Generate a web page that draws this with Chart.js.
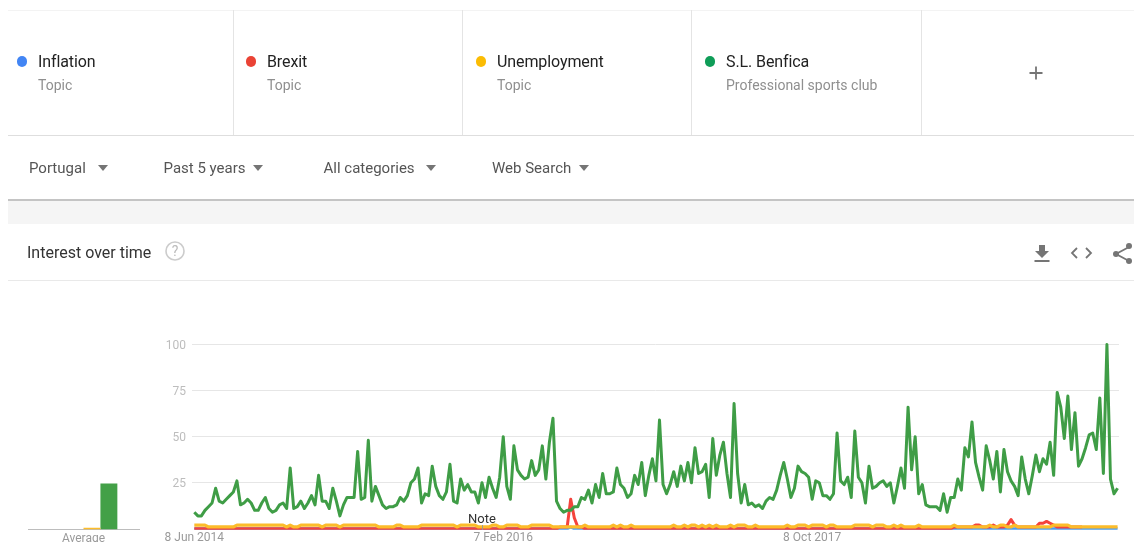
<!DOCTYPE html>
<html><head><meta charset="utf-8">
<script src="https://cdn.jsdelivr.net/npm/chart.js@4"></script>
<style>
html,body{margin:0;padding:0;background:#fff;width:1134px;height:542px;overflow:hidden;font-family:Roboto,sans-serif}
#page{position:absolute;left:0;top:0;width:1134px;height:542px;filter:blur(.35px)}
.a{position:absolute;white-space:nowrap}
.ln{position:absolute;background:#e4e4e4}
.dot{position:absolute;width:10.5px;height:10.5px;border-radius:50%}
.t{font-size:16px;color:#222;line-height:20px;letter-spacing:-.1px}
.s{font-size:14px;color:#8f8f8f;line-height:18px}
.f{font-size:15px;color:#555;line-height:20px}
.tri{position:absolute;width:0;height:0;border-left:5.5px solid transparent;border-right:5.5px solid transparent;border-top:6px solid #757575}
canvas{position:absolute;display:block}
</style></head><body><div id="page">
<div class="ln" style="left:8px;top:10px;width:1126px;height:1px;background:#f3f3f3"></div>
<div class="ln" style="left:233px;top:10px;width:1px;height:125px"></div>
<div class="ln" style="left:462px;top:10px;width:1px;height:125px"></div>
<div class="ln" style="left:691px;top:10px;width:1px;height:125px"></div>
<div class="ln" style="left:921px;top:10px;width:1px;height:125px"></div>
<div class="ln" style="left:8px;top:135px;width:1126px;height:1px;background:#dedede"></div>

<div id="lg"></div>
<svg class="a" style="left:1028px;top:65px" width="16" height="16"><path d="M8 1.500v13M1.500 8h13" stroke="#757575" stroke-width="1.800" fill="none"/></svg>

<div class="a f" style="left:29px;top:158px">Portugal</div><div class="tri" style="left:98px;top:165px"></div>
<div class="a f" style="left:163.500px;top:158px">Past 5 years</div><div class="tri" style="left:253px;top:165px"></div>
<div class="a f" style="left:323.500px;top:158px">All categories</div><div class="tri" style="left:426px;top:165px"></div>
<div class="a f" style="left:492px;top:158px">Web Search</div><div class="tri" style="left:579px;top:165px"></div>

<div class="ln" style="left:8px;top:199px;width:1126px;height:2px;background:#c4c4c4"></div>
<div class="ln" style="left:8px;top:201px;width:1126px;height:23px;background:#f5f5f5"></div>
<div class="a" style="left:27px;top:243px;font-size:16px;line-height:20px;color:#333">Interest over time</div>
<svg class="a" style="left:164px;top:240px" width="22" height="22"><circle cx="11" cy="11" r="9" fill="none" stroke="#ccc" stroke-width="1.600"/><text x="11" y="16" text-anchor="middle" font-size="14" font-family="Roboto" fill="#bbb">?</text></svg>
<svg class="a" style="left:1030px;top:240px" width="104" height="26">
<path d="M9 5h6v6h4l-7 7-7-7h4zM4.500 20h15v2h-15z" fill="#757575"/>
<path d="M47 8l-5 5 5 5M56 8l5 5-5 5" fill="none" stroke="#757575" stroke-width="1.800"/>
<path d="M99 7L86 14l13 7" fill="none" stroke="#757575" stroke-width="1.800"/><circle cx="99" cy="6" r="3" fill="#757575"/><circle cx="86" cy="14" r="3" fill="#757575"/><circle cx="99" cy="21" r="3" fill="#757575"/>
</svg>
<div class="ln" style="left:8px;top:280px;width:1126px;height:1px;background:#e9e9e9"></div>

<canvas id="avg" width="140" height="542" style="left:0;top:0;width:140px;height:542px"></canvas>
<canvas id="main" width="1134" height="542" style="left:0;top:0;width:1134px;height:542px"></canvas>
<div class="a" style="left:468px;top:511px;font-size:13px;line-height:16px;color:#333">Note</div>
<div class="a" style="left:482px;top:525px;width:1px;height:5px;background:#999"></div>
</div>
<script>
const seriesNames = ["Inflation","Brexit","Unemployment","S.L. Benfica"];
const seriesTypes = ["Topic","Topic","Topic","Professional sports club"];
const seriesColors = ["#4a9cf0","#f4433c","#fcbc2a","#3f9d46"];
const dotColors = ["#4285f4","#ea4335","#fbbc04","#0f9d58"];
const dotLeft = [16,245,475,704];
const yTicks = [0,25,50,75,100];
const xTickWeeks = [0,87,174];
const xTickLabels = ["8 Jun 2014","7 Feb 2016","8 Oct 2017"];
const averageValues = [0,0,1,24.8];

const inflation = [
0,0,0,0,0,0,0,0,0,0, 0,0,0,0,0,0,0,0,0,0, 0,0,0,0,0,0,0,0,0,0,
0,0,0,0,0,0,0,0,0,0, 0,0,0,0,0,0,0,0,0,0, 0,0,0,0,0,0,0,0,0,0,
0,0,0,0,0,0,0,0,0,0, 0,0,0,0,0,0,0,0,0,0, 0,0,0,0,0,0,0,0,0,0,
0,0,0,0,0,0,0,0,0,0, 0,0,0,0,0,0,1,0,0,0, 0,0,0,0,0,0,0,0,0,0,
0,0,0,0,0,0,0,0,0,0, 0,0,0,0,0,0,0,0,0,0, 0,0,0,0,0,0,0,0,0,0,
0,0,0,0,0,0,0,0,0,0, 0,0,0,0,0,0,0,0,0,0, 0,0,0,0,0,0,0,0,0,0,
0,0,0,0,0,0,0,0,0,0, 0,0,0,0,0,0,0,0,0,0, 0,0,0,0,0,0,0,0,0,0,
0,0,0,0,0,0,0,0,0,0, 0,0,0,0,0,0,0,0,0,0, 0,0,0,0,0,0,0,0,0,0,
0,0,0,0,0,0,0,0,0,0, 0,0,0,0,0,0,0,0,0,0, 0
];
const brexit = [
0,0,0,0,0,0,0,0,0,0, 0,0,0,0,0,0,0,0,0,0, 0,0,0,0,0,0,0,0,0,0,
0,0,0,0,0,0,0,0,0,0, 0,0,0,0,0,0,0,0,0,0, 0,0,0,0,0,0,0,0,0,0,
0,0,0,0,0,0,0,0,0,0, 0,0,0,0,0,0,0,0,0,0, 0,0,0,0,0,0,0,0,0,0,
0,0,0,0,0,0,0,0,0,0, 0,0,0,1,1,1,16,6,1,1, 0,0,0,0,0,0,0,0,0,0,
0,0,0,0,0,0,0,0,0,0, 0,0,0,0,0,0,0,0,0,0, 0,0,0,0,0,0,0,0,0,0,
0,0,0,0,0,0,0,0,0,0, 0,0,0,0,0,0,0,0,0,0, 0,0,0,0,0,0,0,0,0,0,
0,0,0,0,0,0,0,0,0,0, 0,0,0,0,0,0,0,0,0,0, 0,0,0,0,0,0,0,0,0,0,
0,0,0,0,1,1,1,1,1,1, 2,2,1,1,1,2,1,1,1,2, 5,2,1,1,1,1,1,1,3,3,
4,3,2,1,1,1,1,1,1,1, 1
];
const unemployment = [
2,2,2,2,1,1,1,1,1,1, 1,1,2,2,2,2,2,2,2,2, 2,2,2,2,2,2,1,2,1,1,
2,2,2,2,2,2,1,2,2,2, 2,1,2,2,2,2,2,2,2,2, 2,2,1,1,1,1,1,2,2,1,
1,1,1,1,2,2,2,2,2,2, 2,2,2,2,1,2,2,2,2,2, 1,1,1,1,2,2,1,1,2,2,
2,2,1,1,1,2,2,2,2,2, 2,1,1,1,1,1,1,1,1,1, 2,1,1,1,1,1,1,1,2,1,
2,1,1,2,1,1,1,1,1,1, 1,1,1,1,1,2,1,1,2,1, 2,2,1,2,1,2,1,2,1,1,
1,2,1,2,2,2,1,1,2,1, 1,1,1,1,1,1,1,2,1,1, 2,2,2,1,2,2,2,2,1,2,
2,1,1,1,1,1,2,2,2,2, 2,1,2,2,2,1,1,2,1,2, 1,1,1,1,2,1,1,1,1,1,
1,1,1,1,2,1,1,1,1,1, 1,1,1,1,2,1,1,2,2,1, 1,2,1,1,1,1,1,1,1,1,
1,1,2,2,2,2,2,1,1,1, 1,1,1,1,1,1,1,1,1,1, 1
];
const benfica = [
9,7,7,10,12,14,22,15,14,16, 18,20,26,13,14,16,14,10,10,14,
17,11,9,10,13,14,11,33,11,12, 15,11,14,18,13,29,15,15,11,22,
15,7,13,17,17,17,42,16,17,48, 15,23,18,13,11,12,12,13,17,15,
18,25,27,33,14,19,18,34,23,18, 16,20,35,15,14,27,21,24,20,20,
14,25,17,28,22,17,28,50,23,16, 45,32,29,27,28,37,29,32,45,27,
47,60,15,11,9,10,10,12,12,17, 16,21,14,24,17,30,19,19,20,33,
24,22,17,19,29,24,36,18,29,38, 26,59,24,19,24,31,23,34,26,36,
25,44,30,31,35,17,49,29,40,47, 30,17,68,30,14,24,13,14,12,13,
11,15,17,16,21,29,36,27,17,22, 34,31,30,28,16,26,25,18,18,16,
19,52,26,24,28,17,53,28,25,14, 34,22,23,25,26,23,25,14,23,33,
22,66,32,50,19,24,13,12,12,12, 10,19,9,17,17,27,21,44,39,58,
36,28,21,45,37,27,42,20,43,31, 26,23,18,39,27,19,29,40,31,38,
35,47,29,74,66,49,72,43,63,34, 38,44,51,52,43,71,30,100,27,19,
22
];

const lg = document.getElementById('lg');
seriesNames.forEach((n,i)=>{
  const L = dotLeft[i];
  lg.insertAdjacentHTML('beforeend',
   `<div class="dot" style="left:${L+.5}px;top:56px;background:${dotColors[i]}"></div>`+
   `<div class="a t" style="left:${L+22}px;top:52px">${n}</div>`+
   `<div class="a s" style="left:${L+22}px;top:76px">${seriesTypes[i]}</div>`);
});

const pts = arr => arr.map((v,i)=>({x:i,y:v}));
const ds = (label,arr,color,w,order)=>({label,data:pts(arr),borderColor:color,backgroundColor:color,borderWidth:w,pointRadius:0,tension:0,borderJoinStyle:'round',clip:{left:false,right:false,top:false,bottom:1},order});

new Chart(document.getElementById('main'),{
  type:'line',
  data:{datasets:[
    ds(seriesNames[0],inflation,seriesColors[0],3,3),
    ds(seriesNames[1],brexit,seriesColors[1],3,2),
    ds(seriesNames[2],unemployment,seriesColors[2],3.2,1),
    ds(seriesNames[3],benfica,seriesColors[3],3,0)
  ]},
  options:{
    responsive:false,animation:false,
    layout:{padding:0},
    plugins:{legend:{display:false},tooltip:{enabled:false}},
    scales:{
      x:{type:'linear',min:-0.65,max:260.4,
        afterFit(s){s.height=12.5;},
        afterBuildTicks(s){s.ticks=xTickWeeks.map(v=>({value:v}));},
        grid:{display:false,drawTicks:false},border:{display:false},
        ticks:{autoSkip:false,maxRotation:0,padding:2,color:'#9a9a9a',font:{family:'Roboto',size:12},
          callback:(v)=>xTickLabels[xTickWeeks.indexOf(v)]}},
      y:{min:0,max:100,
        afterFit(s){s.width=192;},
        afterBuildTicks(s){s.ticks=yTicks.slice(1).map(v=>({value:v}));},
        grid:{color:'#e6e6e6',lineWidth:1,drawTicks:false},border:{display:false},
        ticks:{padding:6,labelOffset:1,color:'#bdbdbd',font:{family:'Roboto',size:12}}}
    }
  },
  plugins:[{id:'box',beforeLayout(c){c.options.layout.padding={top:344.5,right:15,bottom:0,left:0};}}]
});

new Chart(document.getElementById('avg'),{
  type:'bar',
  data:{labels:["Average"],datasets:seriesNames.map((n,i)=>({label:n,data:[averageValues[i]],backgroundColor:i==3?'#43a047':seriesColors[i],barPercentage:1,categoryPercentage:.61}))},
  options:{
    responsive:false,animation:false,
    layout:{padding:{top:344.5,left:28,right:1,bottom:0}},
    plugins:{legend:{display:false},tooltip:{enabled:false}},
    scales:{
      x:{afterFit(s){s.height=12.5;},grid:{display:false,drawTicks:false},border:{color:'#bdbdbd',width:1},
        ticks:{padding:2,color:'#9a9a9a',font:{family:'Roboto',size:12}}},
      y:{display:false,min:0,max:100}
    }
  }
});
</script>
</body></html>
